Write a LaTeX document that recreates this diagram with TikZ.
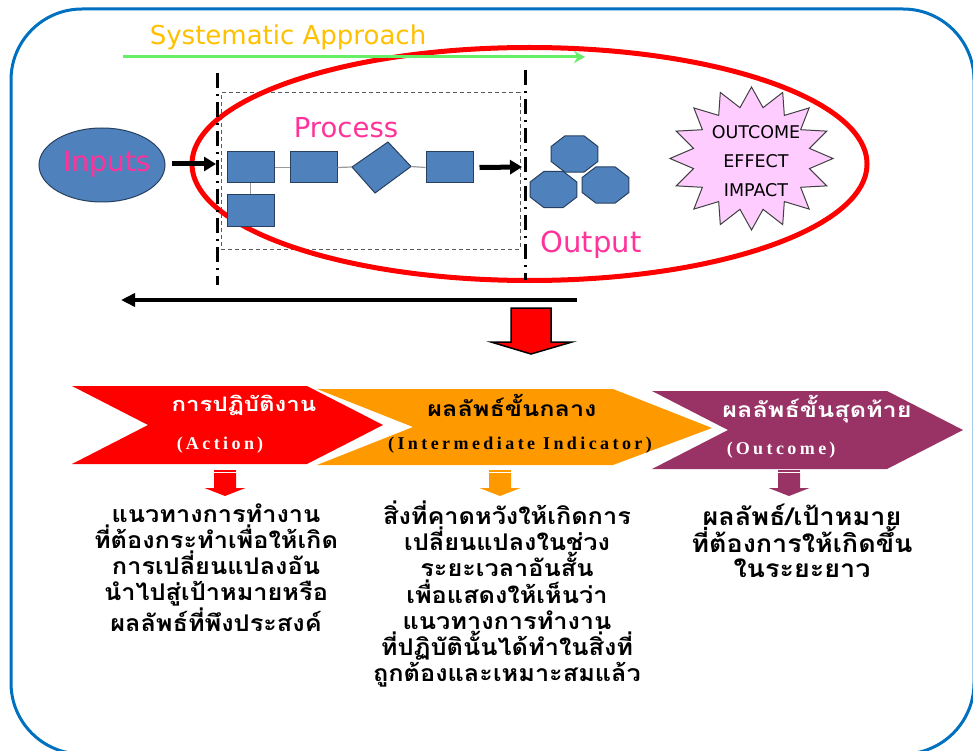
\documentclass[tikz,border=0pt]{standalone}
\usepackage{fontspec}
\usetikzlibrary{arrows.meta,shapes.geometric}
\setmainfont{Liberation Serif}
\newfontfamily\thaifont[Script=Thai]{Loma}
\newfontfamily\thaiwide[Script=Thai, FakeStretch=1.1]{Loma}
\newfontfamily\thaiwider[Script=Thai, FakeStretch=1.2]{Loma}
\newfontfamily\uisans{DejaVu Sans}
\newfontfamily\parenfont[LetterSpace=19]{Liberation Serif}
\definecolor{frameblue}{HTML}{0070C0}
\definecolor{shapefill}{HTML}{4F81BD}
\definecolor{shapeedge}{HTML}{28405F}
\definecolor{pinktext}{HTML}{FF3399}
\definecolor{goldtext}{HTML}{FFC000}
\definecolor{arrowgreen}{HTML}{66EE66}
\definecolor{burstfill}{HTML}{FFCCFF}
\definecolor{chevred}{HTML}{FF0000}
\definecolor{chevorange}{HTML}{FF9900}
\definecolor{chevpurple}{HTML}{993366}
\tikzset{
  procbox/.style={draw=shapeedge, line width=1pt, fill=shapefill, minimum width=47pt, minimum height=31pt, inner sep=0pt},
  octa/.style={draw=shapeedge, line width=1pt, fill=shapefill, regular polygon, regular polygon sides=8, minimum size=39pt, inner sep=0pt, xscale=1.3},
  thinlink/.style={draw=gray!80, line width=1.2pt},
  dashdotline/.style={line width=3pt, dash pattern=on 15pt off 6pt on 2pt off 6pt},
  bigarrow/.style={line width=5pt, -{Triangle[length=12pt,width=14pt]}},
  pinklabel/.style={text=pinktext},
  chevthai/.style={font=\thaiwider\bfseries\fontsize{20}{22}\selectfont},
  chevthaiwide/.style={font=\thaiwider\bfseries\fontsize{21}{24}\selectfont},
  chevparen/.style={font=\parenfont\bfseries\fontsize{18}{20}\selectfont},
  bodytext/.style={align=center, font=\thaiwide\bfseries\fontsize{23}{26.2}\selectfont},
}
\begin{document}
\begin{tikzpicture}[x=1pt,y=-1pt]
\useasboundingbox (0,0) rectangle (973,751);
\fill[white] (0,0) rectangle (973,751);
% frame
\draw[frameblue, line width=3pt, rounded corners=71pt] (11,9) rectangle (974,754);
% systematic approach
\node[text=goldtext, font=\uisans\fontsize{26}{28}\selectfont] (sys) at (288,37) {Systematic Approach};
\coordinate (gstart) at (123,57);
\coordinate (gend) at (585,57);
% dashed process region
\node[draw=gray!70!black, line width=1pt, dash pattern=on 4pt off 3pt, minimum width=299pt, minimum height=156pt, inner sep=0pt] (region) at (370.5,171) {};
% red ellipse
\node[draw=red, line width=5pt, ellipse, minimum width=675pt, minimum height=233pt, inner sep=0pt] (scope) at (529.5,164) {};
% green arrow
\draw[arrowgreen, line width=3pt, -{Stealth[length=11pt,width=12pt]}] (gstart) -- (gend);
% dash-dot lines
\coordinate (l1top) at (217,73);
\coordinate (l1bot) at (217,285);
\coordinate (l2top) at (525,70);
\coordinate (l2bot) at (525,280);
\draw[dashdotline] (l1top) -- (l1bot);
\draw[dashdotline] (l2top) -- (l2bot);
% inputs
\node[ellipse, draw=shapeedge, line width=1pt, fill=shapefill, minimum width=126pt, minimum height=74pt, inner sep=0pt] (inp) at (102,165) {};
\node[pinklabel, font=\uisans\fontsize{28}{30}\selectfont] (inptext) at (107,164) {Inputs};
\coordinate (inend) at (216,164);
\draw[bigarrow] ([xshift=6pt]inp.east |- inend) -- (inend);
% process
\node[pinklabel, font=\uisans\fontsize{27.5}{30}\selectfont] (proctext) at (346,128) {Process};
\node[procbox] (b1) at (250.5,167.5) {};
\node[procbox] (b2) at (313.5,167.5) {};
\coordinate (dleft) at (352,167);
\coordinate (dtop) at (388,142);
\coordinate (dright) at (411,166.5);
\coordinate (dbot) at (375,193);
\draw[draw=shapeedge, line width=1pt, fill=shapefill] (dleft) -- (dtop) -- (dright) -- (dbot) -- cycle;
\node[procbox] (b4) at (449.5,167.5) {};
\node[procbox] (b5) at (250.5,210.5) {};
\draw[thinlink] (b1.east) -- (b2.west);
\draw[thinlink] (b2.east) -- (dleft);
\draw[thinlink] (dright) -- (b4.west);
\draw[thinlink] (b1.south) -- (b5.north);
\coordinate (outend) at (522,167);
\draw[bigarrow] ([xshift=6pt]b4.east) -- (outend);
% output
\node[octa] (o1) at (574.5,154) {};
\node[octa] (o2) at (553.5,189.5) {};
\node[octa] (o3) at (605.5,185) {};
\node[pinklabel, font=\uisans\fontsize{29}{30}\selectfont] (outtext) at (591,245) {Output};
% starburst
\node[star, star points=16, star point ratio=1.38, minimum size=143pt, inner sep=0pt, xscale=1.14, draw=black!75, line width=1pt, fill=burstfill] (burst) at (751.5,158.5) {};
\node[align=center, font=\uisans\fontsize{17.5}{29}\selectfont] (bursttext) at (756,161) {OUTCOME\\EFFECT\\IMPACT};
% long back arrow
\coordinate (backstart) at (577,300);
\coordinate (backend) at (121,300);
\draw[line width=4pt, -{Triangle[length=14pt,width=13pt]}] (backstart) -- (backend);
% big red down arrow
\draw[black, line width=1.5pt, fill=red] (511,308) -- (551,308) -- (551,342) -- (572,342) -- (531,354) -- (491,342) -- (511,342) -- cycle;
% chevrons
\fill[chevred] (72,386) -- (307,386) -- (383,425) -- (307,464) -- (72,464) -- (148,425) -- cycle;
\fill[chevorange] (317,389) -- (613,389) -- (712,428) -- (613,465) -- (317,465) -- (413,427) -- cycle;
\fill[chevpurple] (652,391) -- (887,391) -- (963,430) -- (887,469) -- (652,469) -- (728,430) -- cycle;
\node[chevthai, text=white] (c1a) at (244,405) {การปฏิบัติงาน};
\node[chevparen, text=white] (c1b) at (220,445) {(\,Action\,)};
\node[chevthaiwide, text=black] (c2a) at (512,405) {ผลลัพธ์ขั้นกลาง};
\node[chevparen, text=black] (c2b) at (520,445) {(Intermediate Indicator)};
\node[chevthaiwide, text=white] (c3a) at (817,409) {ผลลัพธ์ขั้นสุดท้าย};
\node[chevparen, text=white] (c3b) at (781,450) {(\,Outcome\,)};
% small striped down arrows
\foreach \cx/\col in {225/chevred, 500/chevorange, 789/chevpurple} {
  \fill[\col] (\cx-11,470) rectangle (\cx+11,471.5);
  \fill[\col] (\cx-11,473) -- (\cx+11,473) -- (\cx+11,488) -- (\cx+20.5,488) -- (\cx,496) -- (\cx-20.5,488) -- (\cx-11,488) -- cycle;
}
% descriptions
\node[bodytext] (d1) at (216,567.5) {แนวทางการทำงาน\\ที่ต้องกระทำเพื่อให้เกิด\\การเปลี่ยนแปลงอัน\\นำไปสู่เป้าหมายหรือ\\ผลลัพธ์ที่พึงประสงค์};
\node[bodytext] (d2) at (507,594) {สิ่งที่คาดหวังให้เกิดการ\\เปลี่ยนแปลงในช่วง\\ระยะเวลาอันสั้น\\เพื่อแสดงให้เห็นว่า\\แนวทางการทำงาน\\ที่ปฏิบัตินั้นได้ทำในสิ่งที่\\ถูกต้องและเหมาะสมแล้ว};
\node[bodytext, font=\thaiwide\bfseries\fontsize{24.5}{24.5}\selectfont] (d3) at (802,541) {ผลลัพธ์/เป้าหมาย\\ที่ต้องการให้เกิดขึ้น\\ในระยะยาว};
\end{tikzpicture}
\end{document}
